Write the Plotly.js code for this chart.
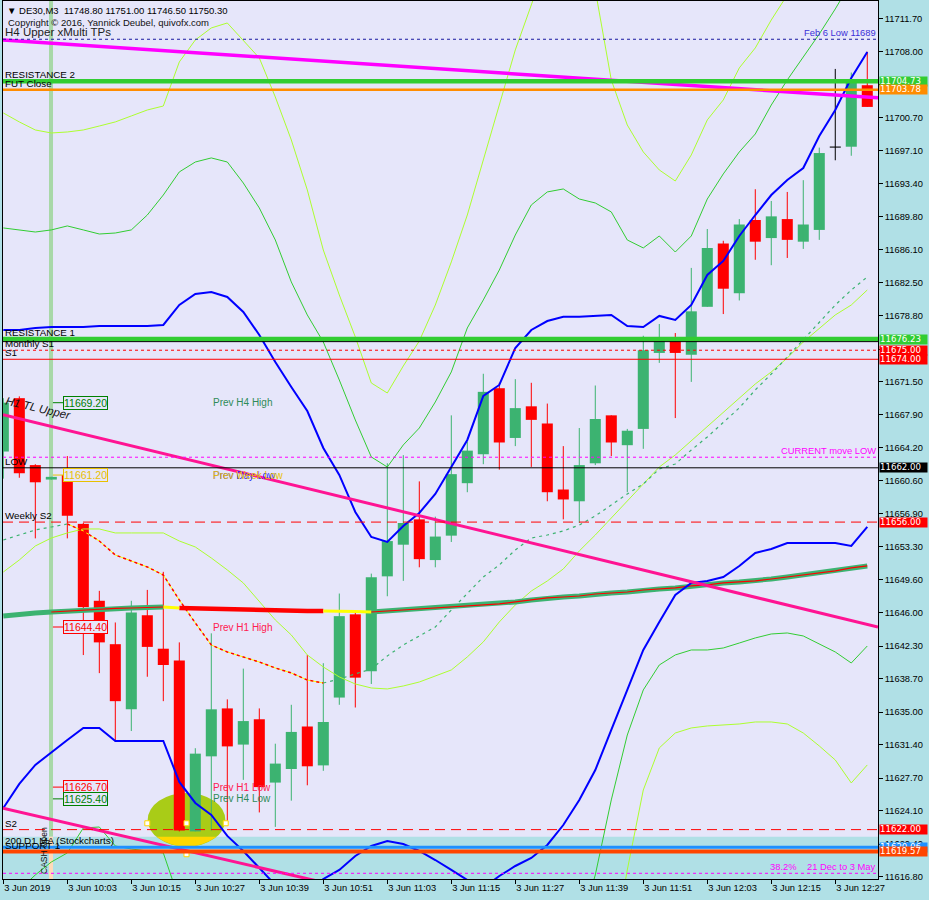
<!DOCTYPE html>
<html><head><meta charset="utf-8">
<script src="https://cdn.plot.ly/plotly-3.0.1.min.js"></script>
<style>html,body{margin:0;padding:0;background:#B0E0E6;}#chart{width:929px;height:900px;}</style>
</head><body><div id="chart"></div>
<script>
// ---- DE30 M3 candles (3 Jun 2019) ----
const openP  = [11663.8,11669.7,11662.3,11660.7,11661.2,11655.8,11647.3,11642.5,11635.3,11645.7,11642.0,11640.7,11621.8,11630.1,11635.4,11631.4,11634.2,11627.2,11628.7,11633.4,11629.1,11636.6,11645.8,11639.5,11650.0,11653.5,11656.3,11651.8,11654.5,11660.3,11663.5,11670.8,11665.3,11668.8,11666.9,11659.6,11658.3,11662.5,11667.8,11664.5,11666.3,11674.7,11676.0,11674.5,11679.8,11686.8,11681.3,11689.4,11687.4,11689.5,11687.0,11688.3,11697.4,11697.5,11704.3];
const highP  = [11669.7,11669.9,11662.4,11661.0,11663.3,11655.9,11648.4,11644.9,11647.3,11648.5,11650.5,11642.7,11631.0,11643.7,11636.4,11639.8,11635.4,11631.5,11635.8,11641.3,11640.4,11648.1,11646.1,11650.3,11662.5,11663.4,11660.5,11656.6,11667.8,11664.9,11672.4,11671.4,11671.8,11671.4,11669.1,11664.4,11666.4,11671.1,11667.8,11666.3,11676.6,11677.9,11676.9,11684.1,11688.4,11687.1,11689.5,11692.8,11691.5,11692.5,11693.8,11697.4,11706.1,11705.7,11708.0];
const lowP   = [11660.8,11660.9,11654.2,11660.7,11654.2,11641.3,11639.3,11631.7,11632.9,11638.9,11636.2,11621.8,11621.8,11621.9,11622.6,11627.5,11623.9,11622.3,11625.2,11626.9,11628.5,11635.8,11635.5,11638.1,11647.8,11649.5,11651.0,11651.0,11653.8,11659.3,11662.4,11661.8,11664.4,11662.1,11658.3,11656.3,11655.9,11662.3,11663.3,11659.3,11664.1,11673.6,11667.5,11671.5,11679.8,11679.0,11680.5,11685.0,11684.4,11685.2,11686.2,11687.2,11696.0,11696.5,11701.9];
const closeP = [11669.2,11661.4,11660.4,11661.0,11656.7,11646.6,11642.7,11636.2,11646.0,11642.2,11640.2,11621.9,11630.4,11635.3,11631.2,11634.0,11626.7,11629.3,11632.8,11629.0,11633.9,11645.6,11638.8,11649.9,11653.9,11655.9,11651.9,11654.4,11661.3,11663.9,11670.4,11664.8,11668.6,11667.3,11659.3,11658.5,11662.3,11667.4,11664.8,11666.1,11675.0,11676.0,11674.7,11679.3,11686.3,11681.8,11688.9,11687.0,11689.8,11687.2,11688.9,11696.8,11697.4,11704.9,11701.9];

// time axis
const tickIdx = [0,4,8,12,16,20,24,28,32,36,40,44,48,52];
const tickLabels = ['3 Jun 2019','3 Jun 10:03','3 Jun 10:15','3 Jun 10:27','3 Jun 10:39','3 Jun 10:51','3 Jun 11:03','3 Jun 11:15','3 Jun 11:27','3 Jun 11:39','3 Jun 11:51','3 Jun 12:03','3 Jun 12:15','3 Jun 12:27'];
const priceTicks = [11616.8,11620.4,11624.1,11627.7,11631.4,11635.0,11638.7,11642.3,11646.0,11649.6,11653.3,11656.9,11660.6,11664.2,11667.9,11671.5,11675.1,11678.8,11682.5,11686.1,11689.8,11693.4,11697.1,11700.7,11704.4,11708.0,11711.7];

// ---- indicators (one value per bar) ----
const blueUpper = [11677.24,11677.24,11677.46,11677.57,11677.57,11677.57,11677.68,11677.68,11677.68,11677.68,11677.79,11680.00,11681.22,11681.44,11680.89,11679.23,11676.69,11673.70,11670.94,11668.28,11664.19,11661.21,11657.12,11654.35,11653.80,11655.57,11657.01,11659.11,11662.09,11665.08,11669.94,11671.16,11675.25,11677.24,11678.23,11678.71,11678.71,11678.79,11678.90,11677.68,11677.57,11678.79,11678.34,11680.00,11683.32,11684.87,11687.63,11689.95,11692.16,11693.82,11695.15,11698.69,11701.56,11705.10,11707.97];
const blueLower = [11624.39,11627.05,11629.15,11630.58,11631.91,11633.24,11633.24,11631.80,11631.80,11631.80,11631.80,11627.27,11624.95,11623.62,11621.30,11619.64,11617.76,11615.88,11613.67,11614.77,11616.54,11617.54,11619.09,11620.19,11620.74,11620.41,11619.64,11618.64,11617.54,11616.43,11615.55,11616.87,11617.98,11618.86,11620.30,11622.51,11625.28,11628.59,11633.02,11637.44,11641.86,11644.96,11647.94,11649.27,11649.49,11649.93,11651.15,11652.58,11653.03,11653.69,11653.69,11653.69,11653.69,11653.36,11655.46];
const greenUpper = [11688.52,11688.30,11688.07,11688.30,11688.74,11688.30,11687.85,11687.96,11688.30,11689.95,11692.16,11694.71,11695.81,11696.26,11695.81,11693.49,11690.73,11687.19,11682.55,11678.90,11675.91,11671.71,11667.29,11663.20,11662.09,11664.53,11666.40,11669.28,11672.60,11677.46,11680.56,11683.87,11687.74,11691.06,11692.50,11692.83,11691.72,11691.28,11690.29,11687.19,11686.31,11687.63,11685.86,11687.63,11691.72,11694.49,11696.92,11698.91,11702.11,11704.88,11707.42,11709.96,11712.73,11715.71,11718.70];
const greenLower = [11613.67,11615.33,11616.99,11618.42,11619.42,11622.18,11622.29,11620.19,11619.86,11619.64,11619.42,11614.22,null,null,null,null,null,null,null,null,null,null,null,null,null,null,null,null,null,null,null,null,null,null,null,null,11610.90,11616.99,11625.28,11632.46,11637.44,11640.20,11641.31,11641.86,11641.86,11642.08,11642.63,11643.19,11643.63,11643.74,11643.41,11642.52,11641.64,11640.42,11642.30];
const limeUpper = [11701.23,11700.24,11699.35,11699.02,11699.13,11699.35,11699.79,11700.24,11700.90,11701.56,11702.00,11706.87,11709.30,11710.63,11711.18,11709.30,11707.31,11703.00,11698.25,11692.72,11686.08,11681.11,11676.47,11671.38,11670.27,11673.26,11676.02,11680.00,11684.76,11689.95,11696.03,11702.11,11708.20,11713.17,11718.15,11720.36,11719.25,11714.83,11704.88,11699.90,11696.92,11694.93,11693.71,11696.59,11700.46,11702.67,11706.21,11708.42,11711.51,11714.28,11717.04,11719.80,11722.57,11725.33,11728.10];
const limeMid = [11650.48,11651.81,11653.36,11654.24,11654.80,11655.24,11655.24,11654.80,11654.80,11654.80,11654.80,11653.91,11653.25,11652.03,11650.71,11649.27,11647.17,11645.18,11643.52,11641.31,11639.98,11638.88,11638.10,11637.66,11637.55,11637.88,11638.32,11638.99,11639.65,11641.09,11642.75,11644.96,11646.84,11648.38,11649.49,11650.82,11652.81,11654.57,11656.45,11658.33,11660.21,11662.09,11663.42,11664.97,11666.52,11668.17,11669.72,11671.27,11672.60,11674.14,11675.91,11677.46,11678.90,11680.00,11681.66];
const limeLower = [null,null,null,null,null,null,null,null,null,null,null,null,null,null,null,null,null,null,null,null,null,null,null,null,null,null,null,null,null,null,null,null,null,null,null,null,null,null,11607.59,11617.54,11626.38,11631.03,11632.68,11633.24,11633.46,11633.57,11633.68,11633.90,11633.90,11633.68,11632.68,11631.25,11629.70,11627.16,11629.15];
const dotMA = [11654.02,11654.57,11655.13,11655.46,11655.79,11655.02,11653.91,11652.36,11651.70,11651.04,11650.15,11647.39,11644.85,11642.41,11641.64,11641.09,11640.53,11639.87,11639.32,11638.54,11638.21,11638.65,11639.21,11639.76,11641.20,11642.41,11643.41,11644.40,11646.28,11648.05,11649.93,11651.26,11652.92,11654.24,11654.57,11655.02,11655.68,11656.68,11657.89,11659.11,11660.21,11661.87,11662.42,11663.97,11665.41,11667.07,11668.62,11670.61,11672.37,11674.25,11676.13,11678.12,11680.00,11681.66,11683.10];
const maBand = [11645.62,11645.84,11645.95,11646.06,11646.17,11646.28,11646.39,11646.45,11646.50,11646.56,11646.61,11646.50,11646.45,11646.39,11646.39,11646.34,11646.28,11646.28,11646.23,11646.17,11646.17,11646.17,11646.12,11646.06,11646.17,11646.28,11646.39,11646.50,11646.61,11646.73,11646.84,11646.95,11647.17,11647.39,11647.61,11647.72,11647.83,11648.05,11648.16,11648.27,11648.49,11648.60,11648.72,11648.94,11649.05,11649.27,11649.38,11649.49,11649.71,11649.93,11650.15,11650.37,11650.60,11650.93,11651.15];

// ---- trend lines (bar index, price) ----
const tlEndsK = [-0.02, 54.67];
const tlH4Upper = [11709.30, 11702.90];
const tlH1Upper = [11667.88, 11644.40];
const tlLower   = [11624.36, 11601.98];

// ---- horizontal levels ----
const levelPrice = [11709.38,11704.73,11703.80,11676.23,11675.95,11675.00,11674.00,11663.17,11662.00,11656.00,11622.00,11620.06,11619.57,11617.17];
const levelColor = ['#1A1AA0','#32CD32','#FF8C00','#32CD32','#000000','#FF0000','#FF0000','#FF00FF','#000000','#FF0000','#FF0000','#1E90FF','#FF4500','#FF00FF'];
const levelWidth = [1,4.5,2.5,4.5,1,1,1,1,1,1,1,3,4,1];
const levelDash  = ['3px,3px','solid','solid','solid','solid','3px,3px','solid','3px,3px','solid','10px,6px','10px,6px','solid','solid','3px,3px'];
const supportZone = [11600, 11621.22];

const leftText  = ['RESISTANCE 2','FUT Close','RESISTANCE 1','Monthly S1','S1','LOW','Weekly S2','S2','200 D1 MA (Stockcharts)','SUPPORT 1'];
const leftTextP = [11704.73,11703.80,11676.23,11675.00,11674.00,11662.00,11656.00,11622.00,11620.06,11619.57];

const axisBoxP = [11704.73,11703.78,11676.23,11675.00,11674.00,11662.00,11656.00,11622.00,11620.06,11619.57];
const axisBoxC = ['#32CD32','#FF8C00','#32CD32','#FF0000','#FF0000','#000000','#FF0000','#FF0000','#1E90FF','#FF4500'];

const priceLabelP = [11669.20,11661.20,11644.40,11626.70,11625.40];
const priceLabelC = ['#008000','#E8C000','#FF0000','#FF0000','#008000'];
const prevText  = ['Prev H4 High','Prev Day Low','Prev Week Low','Prev H1 High','Prev H1 Low','Prev H4 Low'];
const prevTextP = [11669.20,11661.20,11661.20,11644.40,11626.70,11625.40];
const prevTextC = ['#2E8B57','#2828FF','#E8C000','#FF2050','#FF2050','#2E8B57'];

// ellipse object
const ellipseK = [9.025, 13.875];
const ellipseP = [11620.11, 11626.05];
const handleK = [9.0, 11.45, 13.9, 11.45];
const handleP = [11622.70, 11622.70, 11622.70, 11619.28];
const cashOpenK = [2.856, 3.106];

// ================= build =================
const FONT = 'Liberation Sans, Arial, sans-serif';
const FONTB = 'DejaVu Sans, Verdana, sans-serif';
const GREEN = '#3CB371', RED = '#FF0000';
const xs = openP.map((_, i) => i);
const bodyColor = closeP.map((c, i) => c > openP[i] ? GREEN : (c < openP[i] ? RED : '#000000'));
const bodyBase = openP.map((o, i) => Math.min(o, closeP[i]));
const bodyH = openP.map((o, i) => Math.max(Math.abs(closeP[i] - o), 0.12));

const traces = [];
traces.push({type:'bar', x:xs, y:bodyH, base:bodyBase, width:0.69, marker:{color:bodyColor, line:{width:0}}, hoverinfo:'skip'});
[GREEN, RED, '#000000'].forEach(col => {
  const wx = [], wy = [];
  xs.forEach(i => { if (bodyColor[i] === col) { wx.push(i, i, null); wy.push(lowP[i], highP[i], null); } });
  traces.push({type:'scatter', mode:'lines', x:wx, y:wy, line:{color:col, width:1}, hoverinfo:'skip'});
});
const seg = (arr, a, b) => arr.map((v, i) => (i >= a && i <= b) ? v : null);
const line = (y, color, width, dash, x) => ({type:'scatter', mode:'lines', x: x || xs, y, line:{color, width, dash: dash || 'solid'}, hoverinfo:'skip'});

traces.push(line(limeUpper, '#ADFF2F', 1));
traces.push(line(limeMid, '#ADFF2F', 1));
traces.push(line(limeLower, '#ADFF2F', 1));
traces.push(line(greenUpper, '#32CD32', 1));
traces.push(line(greenLower, '#32CD32', 1));
traces.push(line(seg(dotMA, 0, 4), GREEN, 1.2, '3px,4px'));
traces.push(line(seg(dotMA, 20, 54), GREEN, 1.2, '3px,4px'));
traces.push(line(seg(dotMA, 4, 20), '#FFFF00', 1));
traces.push(line(seg(dotMA, 4, 20), RED, 1.5, 'dot'));
traces.push(line(seg(maBand, 0, 10), GREEN, 5));
traces.push(line(seg(maBand, 23, 54), GREEN, 5));
traces.push(line(seg(maBand, 11, 20), RED, 4.5));
traces.push(line(seg(maBand, 10, 11), '#FFFF00', 3));
traces.push(line(seg(maBand, 20, 23), '#FFFF00', 3));
traces.push(line(seg(maBand, 3, 10), RED, 1.2));
traces.push(line(seg(maBand, 23, 54), RED, 1.2));
traces.push(line(blueUpper, '#0000FF', 2));
traces.push(line(blueLower, '#0000FF', 2));
traces.push(line(tlH4Upper, '#FF00FF', 3.5, 'solid', tlEndsK));
traces.push(line(tlH1Upper, '#FF1493', 3, 'solid', tlEndsK));
traces.push(line(tlLower, '#FF1493', 3, 'solid', tlEndsK));
traces.push({type:'scatter', mode:'markers', x:handleK, y:handleP, marker:{symbol:'square', size:5, color:'#FFFFFF', line:{color:'#FFD700', width:1}}, hoverinfo:'skip'});

const shapes = [];
shapes.push({type:'rect', layer:'below', xref:'paper', x0:0, x1:1, yref:'y', y0:supportZone[0], y1:supportZone[1], fillcolor:'#B0E0E6', line:{width:0}});
shapes.push({type:'rect', layer:'below', xref:'x', x0:cashOpenK[0], x1:cashOpenK[1], yref:'y', y0:supportZone[1], y1:11720, fillcolor:'#A8D8A8', line:{width:0}});
shapes.push({type:'rect', layer:'below', xref:'x', x0:cashOpenK[0], x1:cashOpenK[1], yref:'y', y0:supportZone[0], y1:supportZone[1], fillcolor:'#FFDAB9', line:{width:0}});
shapes.push({type:'circle', layer:'below', xref:'x', yref:'y', x0:ellipseK[0], x1:ellipseK[1], y0:ellipseP[0], y1:ellipseP[1], fillcolor:'#A9CC17', line:{width:0}});
{
  const cx = (ellipseK[0] + ellipseK[1]) / 2, cy = (ellipseP[0] + ellipseP[1]) / 2;
  const rx = (ellipseK[1] - ellipseK[0]) / 2, ry = (ellipseP[1] - ellipseP[0]) / 2;
  const t = (supportZone[1] - cy) / ry; const dx = rx * Math.sqrt(1 - t * t);
  const depth = supportZone[1] - ellipseP[0];
  shapes.push({type:'path', layer:'below', xref:'x', yref:'y', path:`M ${cx-dx},${supportZone[1]} Q ${cx},${ellipseP[0]-depth} ${cx+dx},${supportZone[1]} Z`, fillcolor:'#FFD700', line:{width:0}});
}
levelPrice.forEach((p, i) => shapes.push({type:'line', layer:'above', xref:'paper', x0:0, x1:1, yref:'y', y0:p, y1:p, line:{color:levelColor[i], width:levelWidth[i], dash:levelDash[i]}}));
priceLabelP.forEach((p, i) => shapes.push({type:'line', layer:'above', xref:'x', x0:3.1, x1:3.73, yref:'y', y0:p, y1:p, line:{color:priceLabelC[i], width:1}}));

const PX = p => (p - 3) / 875, PY = p => (879 - p) / 878;
const ann = [];
const note = (o) => ann.push(Object.assign({showarrow:false}, o));
note({text:'▼ DE30,M3  11748.80 11751.00 11746.50 11750.30', xref:'paper', yref:'paper', x:PX(5), y:PY(10), xanchor:'left', yanchor:'middle', font:{family:FONT, size:9.5, color:'#000'}});
note({text:'H4 Upper xMulti TPs', xref:'paper', yref:'paper', x:PX(3), y:PY(32), xanchor:'left', yanchor:'middle', font:{family:FONT, size:11.5, color:'#222'}});
note({text:'Copyright © 2016, Yannick Deubel, quivofx.com', xref:'paper', yref:'paper', x:PX(6), y:PY(23), xanchor:'left', yanchor:'middle', font:{family:FONT, size:9.5, color:'#111'}});
note({text:'H1 TL Upper', xref:'paper', yref:'paper', x:PX(38), y:PY(408), xanchor:'center', yanchor:'middle', textangle:13, font:{family:FONT, size:11.5, color:'#111', style:'italic'}});
note({text:'CASH Open', xref:'paper', yref:'paper', x:PX(44), y:PY(851), xanchor:'center', yanchor:'middle', textangle:-90, font:{family:FONT, size:8.5, color:'#111'}});
leftText.forEach((t, i) => note({text:t, xref:'paper', x:PX(4), yref:'y', y:leftTextP[i], xanchor:'left', yanchor:'bottom', borderpad:0, font:{family:FONT, size:9.8, color:'#000'}}));
note({text:'Feb 6 Low 11689', xref:'paper', x:PX(877), yref:'y', y:levelPrice[0], xanchor:'right', yanchor:'bottom', borderpad:0, font:{family:FONT, size:9.4, color:'#3A30D8'}});
note({text:'CURRENT move LOW', xref:'paper', x:PX(877), yref:'y', y:levelPrice[7], xanchor:'right', yanchor:'bottom', borderpad:0, font:{family:FONT, size:9.4, color:'#FF00FF'}});
note({text:'38.2%    21 Dec to 3 May', xref:'paper', x:PX(877), yref:'y', y:levelPrice[13], xanchor:'right', yanchor:'bottom', borderpad:0, font:{family:FONT, size:9.4, color:'#FF00FF'}});
priceLabelP.forEach((p, i) => note({text:p.toFixed(2), xref:'x', x:3.73, yref:'y', y:p, xanchor:'left', yanchor:'middle', bgcolor:'#E6E6FA', bordercolor:priceLabelC[i], borderwidth:1, borderpad:0, font:{family:FONT, size:10.5, color:priceLabelC[i]}}));
prevText.forEach((t, i) => note({text:t, xref:'x', x:12.98, yref:'y', y:prevTextP[i], xanchor:'left', yanchor:'middle', font:{family:FONT, size:10, color:prevTextC[i]}}));
axisBoxP.forEach((p, i) => note({text:p.toFixed(2), xref:'paper', x:PX(879), yref:'y', y:p, xanchor:'left', yanchor:'middle', width:47, height:8.5, align:'left', bgcolor:axisBoxC[i], borderpad:0, font:{family:FONTB, size:8.6, color:'#FFFFFF'}}));

const layout = {
  width:929, height:900,
  margin:{l:3, r:51, t:1, b:21, pad:0},
  paper_bgcolor:'#B0E0E6', plot_bgcolor:'#E6E6FA',
  showlegend:false, barmode:'overlay',
  xaxis:{range:[-0.02, 54.67], tickvals:tickIdx, ticktext:tickLabels, ticks:'outside', ticklen:4, tickcolor:'#000', showline:true, linecolor:'#000', linewidth:1, mirror:true, showgrid:false, zeroline:false, ticklabelposition:'outside right', tickfont:{family:FONT, size:9.3, color:'#000'}},
  yaxis:{side:'right', range:[11616.54, 11713.61], tickvals:priceTicks, tickformat:'.2f', ticks:'outside', ticklen:4, tickcolor:'#000', showline:true, linecolor:'#000', linewidth:1, mirror:true, showgrid:false, zeroline:false, tickfont:{family:FONT, size:9.3, color:'#000'}},
  shapes, annotations: ann
};
Plotly.newPlot('chart', traces, layout, {staticPlot:true});
</script></body></html>
